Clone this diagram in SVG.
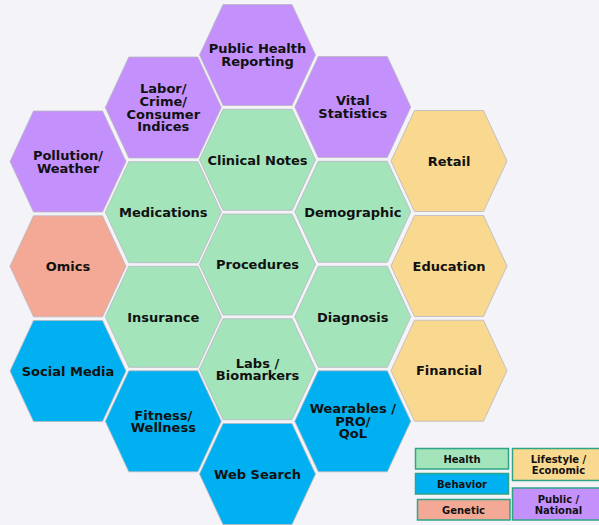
<svg xmlns="http://www.w3.org/2000/svg" xmlns:xlink="http://www.w3.org/1999/xlink" width="599" height="525" viewBox="0 0 599 525">
<style>
.hx{stroke:#b8b8c0;stroke-width:0.8}
.pu{fill:#c390fc}.gr{fill:#a3e4bb}.sa{fill:#f4a996}.bl{fill:#00b0f0}.ye{fill:#f9d88f}
text{font-family:"DejaVu Sans","Verdana",sans-serif;font-weight:bold;fill:#111;text-anchor:middle}
.t{font-size:13px}
.l{font-size:10px}
.lg{stroke:#2ea586;stroke-width:1.5}
</style>
<defs>
<polygon id="hex" points="-58,0 -34.5,-50.5 34.5,-50.5 58,0 34.5,50.5 -34.5,50.5"/>
</defs>
<rect width="599" height="525" fill="#f4f3f8"/>
<g id="connectors"/>
<!-- column 1 -->
<g id="pollution"><use xlink:href="#hex" x="68" y="161.5" class="hx pu"/><text class="t" x="68" y="160"><tspan x="68">Pollution/</tspan><tspan x="68" dy="12.7">Weather</tspan></text></g>
<g id="omics"><use xlink:href="#hex" x="68" y="266.3" class="hx sa"/><text class="t" x="68" y="271">Omics</text></g>
<g id="social"><use xlink:href="#hex" x="68" y="371" class="hx bl"/><text class="t" x="68" y="375.7">Social Media</text></g>
<!-- column 2 -->
<g id="labor"><use xlink:href="#hex" x="163.3" y="107.5" class="hx pu"/><text class="t" x="163.3" y="93.2"><tspan x="163.3">Labor/</tspan><tspan x="163.3" dy="12.7">Crime/</tspan><tspan x="163.3" dy="12.7">Consumer</tspan><tspan x="163.3" dy="12.7">Indices</tspan></text></g>
<g id="medications"><use xlink:href="#hex" x="163.3" y="212.2" class="hx gr"/><text class="t" x="163.3" y="217">Medications</text></g>
<g id="insurance"><use xlink:href="#hex" x="163.3" y="316.8" class="hx gr"/><text class="t" x="163.3" y="321.5">Insurance</text></g>
<g id="fitness"><use xlink:href="#hex" x="163.3" y="421.3" class="hx bl"/><text class="t" x="163.3" y="419.7"><tspan x="163.3">Fitness/</tspan><tspan x="163.3" dy="12.7">Wellness</tspan></text></g>
<!-- column 3 -->
<g id="publichealth"><use xlink:href="#hex" x="257.5" y="55" class="hx pu"/><text class="t" x="257.5" y="53.4"><tspan x="257.5">Public Health</tspan><tspan x="257.5" dy="12.7">Reporting</tspan></text></g>
<g id="clinical"><use xlink:href="#hex" x="257.5" y="159.8" class="hx gr"/><text class="t" x="257.5" y="164.6">Clinical Notes</text></g>
<g id="procedures"><use xlink:href="#hex" x="257.5" y="264.5" class="hx gr"/><text class="t" x="257.5" y="269.2">Procedures</text></g>
<g id="labs"><use xlink:href="#hex" x="257.5" y="369.2" class="hx gr"/><text class="t" x="257.5" y="367.6"><tspan x="257.5">Labs /</tspan><tspan x="257.5" dy="12.7">Biomarkers</tspan></text></g>
<g id="websearch"><use xlink:href="#hex" x="257.5" y="474" class="hx bl"/><text class="t" x="257.5" y="478.7">Web Search</text></g>
<!-- column 4 -->
<g id="vital"><use xlink:href="#hex" x="352.8" y="107" class="hx pu"/><text class="t" x="352.8" y="105.4"><tspan x="352.8">Vital</tspan><tspan x="352.8" dy="12.7">Statistics</tspan></text></g>
<g id="demographic"><use xlink:href="#hex" x="352.8" y="211.8" class="hx gr"/><text class="t" x="352.8" y="216.6">Demographic</text></g>
<g id="diagnosis"><use xlink:href="#hex" x="352.8" y="316.8" class="hx gr"/><text class="t" x="352.8" y="322">Diagnosis</text></g>
<g id="wearables"><use xlink:href="#hex" x="352.8" y="421.3" class="hx bl"/><text class="t" x="352.8" y="413"><tspan x="352.8">Wearables /</tspan><tspan x="352.8" dy="12.7">PRO/</tspan><tspan x="352.8" dy="12.7">QoL</tspan></text></g>
<!-- column 5 -->
<g id="retail"><use xlink:href="#hex" x="449" y="161" class="hx ye"/><text class="t" x="449" y="166">Retail</text></g>
<g id="education"><use xlink:href="#hex" x="449" y="266" class="hx ye"/><text class="t" x="449" y="270.7">Education</text></g>
<g id="financial"><use xlink:href="#hex" x="449" y="370.7" class="hx ye"/><text class="t" x="449" y="375.4">Financial</text></g>
<!-- legend -->
<g id="legend">
<g id="lg-health"><rect class="lg gr" x="415.5" y="448.5" width="93" height="20.5"/><text class="l" x="462" y="462.8">Health</text></g>
<g id="lg-behavior"><rect class="lg bl" x="415.5" y="473.5" width="93" height="20.5"/><text class="l" x="462" y="487.7">Behavior</text></g>
<g id="lg-genetic"><rect class="lg sa" x="417.5" y="499.5" width="92.5" height="20.5"/><text class="l" x="463.5" y="513.7">Genetic</text></g>
<g id="lg-lifestyle"><rect class="lg ye" x="512.5" y="448.5" width="88" height="32"/><text class="l" x="558.5" y="462.8"><tspan x="558.5">Lifestyle /</tspan><tspan x="558.5" dy="11.5">Economic</tspan></text></g>
<g id="lg-public"><rect class="lg pu" x="512.5" y="488" width="88" height="32"/><text class="l" x="558.5" y="502.5"><tspan x="558.5">Public /</tspan><tspan x="558.5" dy="11.5">National</tspan></text></g>
</g>
</svg>
